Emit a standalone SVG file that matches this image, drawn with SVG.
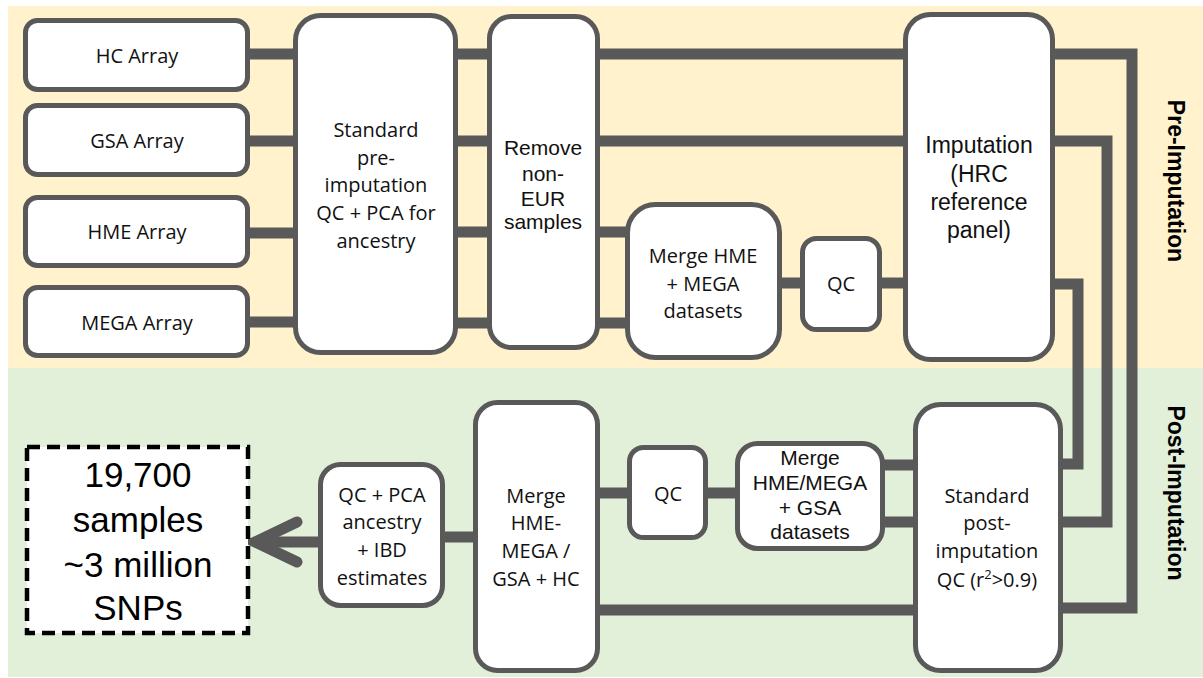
<svg xmlns="http://www.w3.org/2000/svg" width="1203" height="678" viewBox="0 0 1203 678">
<style>
.node{fill:#fff;stroke:#595959;stroke-width:5}
.c{fill:none;stroke:#595959;stroke-width:11;stroke-linejoin:miter}
.t1{font-family:"Open Sans","Liberation Sans",sans-serif;font-size:20px;fill:#111;text-anchor:middle}
.t2{font-family:"Liberation Sans",Arial,sans-serif;font-size:21px;fill:#111;text-anchor:middle}
.t3{font-family:"Liberation Sans",Arial,sans-serif;font-size:23px;fill:#111;text-anchor:middle}
.big{font-family:"Liberation Sans",Arial,sans-serif;font-size:35px;fill:#000;text-anchor:middle}
.side{font-family:"Liberation Sans",Arial,sans-serif;font-size:23px;font-weight:bold;fill:#000;text-anchor:middle}
</style>
<rect x="8" y="6" width="1195" height="362" fill="#FFF2CC"/>
<rect x="8" y="368" width="1195" height="309" fill="#E2EFD9"/>
<g id="connectors">
<path class="c" d="M245 54H298M245 141H298M245 233H298M245 322H298"/>
<path class="c" d="M453 54H492M453 141H492M453 232H492M453 323H492"/>
<path class="c" d="M595 54H910M595 141H910"/>
<path class="c" d="M595 232H630M595 323H630"/>
<path class="c" d="M777 283H807M877 283H910"/>
<path class="c" d="M1050 54H1132V608H1058"/>
<path class="c" d="M1050 141H1107V522H1058"/>
<path class="c" d="M1050 284H1078V464H1058"/>
<path class="c" d="M880 465H918M880 522H918"/>
<path class="c" d="M918 610H595"/>
<path class="c" d="M702 493H740M595 493H632"/>
<path class="c" d="M440 537H478"/>
<path class="c" d="M323 542H258"/>
<path class="c" d="M297 522L255 542L297 562" stroke-linecap="round" stroke-linejoin="round"/>
</g>
<g id="hc-array"><rect class="node" x="25.5" y="20.5" width="222" height="69" rx="12"/><text class="t1" x="137" y="63">HC Array</text></g>
<g id="gsa-array"><rect class="node" x="25.5" y="105.5" width="222" height="69" rx="12"/><text class="t1" x="137" y="148">GSA Array</text></g>
<g id="hme-array"><rect class="node" x="25.5" y="197.5" width="222" height="68" rx="12"/><text class="t1" x="137" y="239">HME Array</text></g>
<g id="mega-array"><rect class="node" x="25.5" y="287.5" width="222" height="68" rx="12"/><text class="t1" x="137" y="330">MEGA Array</text></g>
<g id="std-pre"><rect class="node" x="295.5" y="15.5" width="160" height="337" rx="25"/>
<text class="t1" x="376"><tspan x="376" y="137">Standard</tspan><tspan x="376" y="165">pre-</tspan><tspan x="376" y="192">imputation</tspan><tspan x="376" y="220">QC + PCA for</tspan><tspan x="376" y="248">ancestry</tspan></text></g>
<g id="remove"><rect class="node" x="489.5" y="16.5" width="108" height="331" rx="22"/>
<text class="t2" x="543"><tspan x="543" y="155">Remove</tspan><tspan x="543" y="181">non-</tspan><tspan x="543" y="206">EUR</tspan><tspan x="543" y="229">samples</tspan></text></g>
<g id="merge-hme-mega"><rect class="node" x="627.5" y="204.5" width="152" height="153" rx="28"/>
<text class="t1" x="703"><tspan x="703" y="263">Merge HME</tspan><tspan x="703" y="291">+ MEGA</tspan><tspan x="703" y="318">datasets</tspan></text></g>
<g id="qc-pre"><rect class="node" x="802.5" y="238.5" width="77" height="91" rx="14"/><text class="t1" x="841" y="291">QC</text></g>
<g id="imputation"><rect class="node" x="905.5" y="14.5" width="147" height="345" rx="25"/>
<text class="t3" x="979"><tspan x="979" y="153">Imputation</tspan><tspan x="979" y="182">(HRC</tspan><tspan x="979" y="210">reference</tspan><tspan x="979" y="238">panel)</tspan></text></g>
<g id="std-post"><rect class="node" x="915.5" y="404.5" width="145" height="266" rx="25"/>
<text class="t1" x="987"><tspan x="987" y="503">Standard</tspan><tspan x="987" y="530">post-</tspan><tspan x="987" y="558">imputation</tspan><tspan x="987" y="587">QC (r<tspan font-size="13" dy="-8">2</tspan><tspan dy="8">&gt;0.9)</tspan></tspan></text></g>
<g id="merge-gsa"><rect class="node" x="737.5" y="443.5" width="145" height="105" rx="20"/>
<text class="t2" x="810"><tspan x="810" y="465">Merge</tspan><tspan x="810" y="490">HME/MEGA</tspan><tspan x="810" y="515">+ GSA</tspan><tspan x="810" y="539">datasets</tspan></text></g>
<g id="qc-post"><rect class="node" x="629.5" y="447.5" width="76" height="90" rx="14"/><text class="t1" x="668" y="501">QC</text></g>
<g id="merge-all"><rect class="node" x="475.5" y="402.5" width="122" height="268" rx="22"/>
<text class="t1" x="536"><tspan x="536" y="503">Merge</tspan><tspan x="536" y="530">HME-</tspan><tspan x="536" y="558">MEGA /</tspan><tspan x="536" y="586">GSA + HC</tspan></text></g>
<g id="qc-pca"><rect class="node" x="320.5" y="464.5" width="122" height="141" rx="20"/>
<text class="t1" x="382"><tspan x="382" y="502">QC + PCA</tspan><tspan x="382" y="529">ancestry</tspan><tspan x="382" y="557">+ IBD</tspan><tspan x="382" y="585">estimates</tspan></text></g>
<g id="result"><rect x="27" y="447" width="221" height="186" fill="#fff" stroke="#000" stroke-width="4.5" stroke-dasharray="13 7"/>
<text class="big" x="138"><tspan x="138" y="487">19,700</tspan><tspan x="138" y="532">samples</tspan><tspan x="138" y="577">~3 million</tspan><tspan x="138" y="620">SNPs</tspan></text></g>
<g id="labels">
<text class="side" transform="translate(1168 181) rotate(90)">Pre-Imputation</text>
<text class="side" transform="translate(1168 493) rotate(90)">Post-Imputation</text>
</g>
</svg>
